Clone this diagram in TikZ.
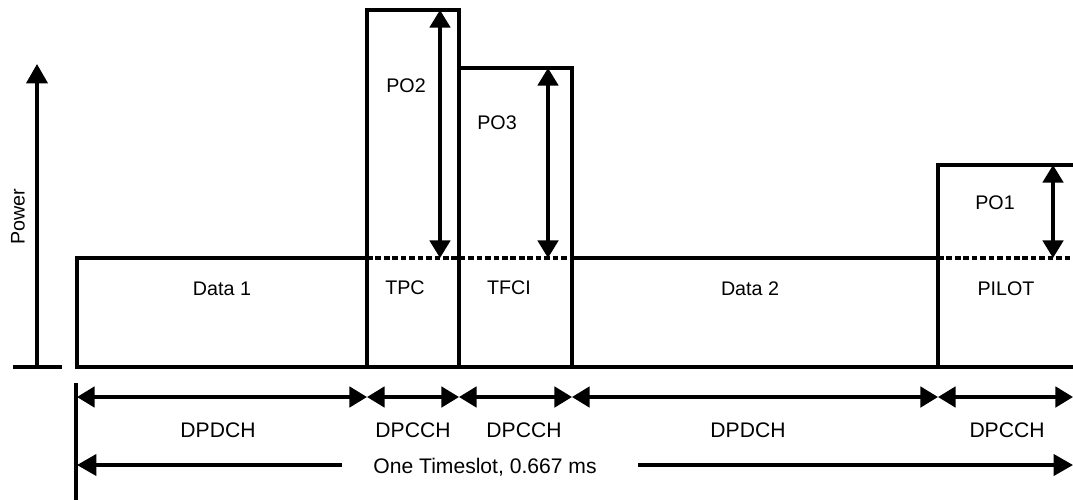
\documentclass[tikz,border=0pt]{standalone}
\usepackage{fontspec}
\setmainfont{Liberation Sans}
\usetikzlibrary{arrows.meta}

\begin{document}
\begin{tikzpicture}[x=0.01cm,y=-0.01cm,
    wall/.style={line width=1.1pt,line join=miter},
    ref/.style={line width=1pt,dash pattern=on 1.6pt off 0.8pt},
    span/.style={{Triangle[length=5pt,width=5.8pt]}-{Triangle[length=5pt,width=5.8pt]},line width=1pt},
    oneway/.style={-{Triangle[length=5.5pt,width=6pt]},line width=1pt},
    lbl/.style={font=\fontsize{5.6}{6}\selectfont,inner sep=0pt},
    dim/.style={font=\fontsize{6}{7}\selectfont,inner sep=0pt}
  ]
    \useasboundingbox (0,0) rectangle (1073,500);
    \clip (0,0) rectangle (1073,500);

    \draw[wall] (77,258) rectangle (367,367);
    \draw[wall] (367,10) rectangle (459,367);
    \draw[wall] (459,68) rectangle (572,367);
    \draw[wall] (572,258) rectangle (938,367);
    \draw[wall] (938,165) rectangle (1090,367);
    \draw[ref] (367,258) -- (572,258);
    \draw[ref] (938,258) -- (1073,258);

    \coordinate (axis0) at (37,367);
    \coordinate (axis1) at (37,64);
    \draw[oneway] (axis0) -- (axis1);
    \draw[wall] (13,367) -- (62,367);
    \node[lbl,rotate=90] (power) at (18,217) {Power};

    \coordinate (po2a) at (440,10);
    \coordinate (po2b) at (440,258);
    \coordinate (po3a) at (548,68);
    \coordinate (po3b) at (548,258);
    \coordinate (po1a) at (1053,165);
    \coordinate (po1b) at (1053,258);
    \draw[span] (po2a) -- (po2b);
    \draw[span] (po3a) -- (po3b);
    \draw[span] (po1a) -- (po1b);
    \node[lbl] (po2) at (406,86) {PO2};
    \node[lbl] (po3) at (497,123) {PO3};
    \node[lbl] (po1) at (995,203) {PO1};

    \node[lbl] (data1) at (222,289) {Data 1};
    \node[lbl] (tpc) at (405,288) {TPC};
    \node[lbl] (tfci) at (509,288) {TFCI};
    \node[lbl] (data2) at (750,289) {Data 2};
    \node[lbl] (pilot) at (1006,289) {PILOT};

    \draw[wall] (76,383) -- (76,500);
    \foreach \x [count=\i from 0] in {77,367,459,572,938,1073}
      \coordinate (d\i) at (\x,397);
    \foreach \i/\j in {0/1,1/2,2/3,3/4,4/5}
      \draw[span] (d\i) -- (d\j);
    \node[dim] (ch1) at (218,430) {DPDCH};
    \node[dim] (ch2) at (413,430) {DPCCH};
    \node[dim] (ch3) at (524,430) {DPCCH};
    \node[dim] (ch4) at (748,430) {DPDCH};
    \node[dim] (ch5) at (1007,430) {DPCCH};

    \coordinate (ts0) at (77,465);
    \coordinate (tsl) at (342,465);
    \coordinate (tsr) at (638,465);
    \coordinate (ts1) at (1073,465);
    \draw[oneway] (tsl) -- (ts0);
    \draw[oneway] (tsr) -- (ts1);
    \node[dim] (slot) at (485,467) {One Timeslot, 0.667 ms};
  \end{tikzpicture}
\end{document}
